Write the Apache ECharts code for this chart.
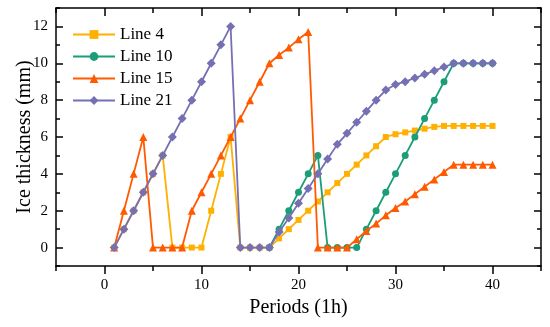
<!DOCTYPE html>
<html>
<head>
<meta charset="utf-8">
<script src="https://cdn.jsdelivr.net/npm/echarts@6/dist/echarts.min.js"></script>
<style>
html,body{margin:0;padding:0;background:#fff;}
#chart{width:550px;height:327px;}
</style>
</head>
<body>
<div id="chart"></div>
<script>
var periods = [1,2,3,4,5,6,7,8,9,10,11,12,13,14,15,16,17,18,19,20,21,22,23,24,25,26,27,28,29,30,31,32,33,34,35,36,37,38,39,40];
var line4  = [0,1,2,3,4,5,0,0,0,0,2,4,6,0,0,0,0,0.5,1,1.5,2,2.5,3,3.5,4,4.5,5,5.5,6,6.15,6.25,6.35,6.45,6.55,6.6,6.6,6.6,6.6,6.6,6.6];
var line10 = [null,null,null,null,null,null,null,null,null,null,null,null,null,null,null,null,0,1,2,3,4,5,0,0,0,0,1,2,3,4,5,6,7,8,9,10,10,10,10,10];
var line15 = [0,2,4,6,0,0,0,0,2,3,4,5,6,7,8,9,10,10.45,10.85,11.3,11.7,0,0,0,0,0.45,0.9,1.3,1.75,2.15,2.5,2.9,3.3,3.7,4.1,4.5,4.5,4.5,4.5,4.5];
var line21 = [0,1,2,3,4,5,6,7,8,9,10,11,12,0,0,0,0,0.85,1.6,2.4,3.2,4.0,4.8,5.6,6.2,6.8,7.4,8.0,8.55,8.85,9.0,9.2,9.4,9.6,9.8,10,10,10,10,10];
var xMajorTicks = [0,10,20,30,40];
var yMajorTicks = [0,2,4,6,8,10,12];
var seriesNames = ['Line 4','Line 10','Line 15','Line 21'];
var colors = ['#FFB000','#1B9E77','#FF5A00','#7570B3'];

function pairs(vals){
  return periods.map(function(p,i){ return [p, vals[i]]; }).filter(function(d){ return d[1] !== null; });
}

var FONT = 'Liberation Serif';
var axisLineStyle = {color:'#000', width:1.5};

function xAx(pos, major, labels, inside){
  return {
    type:'value', min:-5, max:45, interval:5, position:pos,
    axisLine:{show:!major, onZero:false, lineStyle:axisLineStyle},
    axisTick:major ? {show:true, inside:inside, length:8, customValues:xMajorTicks, lineStyle:axisLineStyle}
                   : {show:true, inside:inside, length:5, lineStyle:axisLineStyle},
    axisLabel:labels ? {show:true, margin:12, color:'#000', fontFamily:FONT, fontSize:15, customValues:xMajorTicks} : {show:false},
    splitLine:{show:false},
    name: labels ? 'Periods (1h)' : '',
    nameLocation:'middle', nameGap:32, nameMoveOverlap:false,
    nameTextStyle:{color:'#000', fontFamily:FONT, fontSize:20}
  };
}
function yAx(pos, major, labels){
  return {
    type:'value', min:-1, max:13, interval:1, position:pos,
    axisLine:{show:!major, onZero:false, lineStyle:axisLineStyle},
    axisTick:major ? {show:true, inside:true, length:7, customValues:yMajorTicks, lineStyle:axisLineStyle}
                   : {show:true, inside:true, length:4, lineStyle:axisLineStyle},
    axisLabel:labels ? {show:true, margin:8, color:'#000', fontFamily:FONT, fontSize:15, customValues:yMajorTicks} : {show:false},
    splitLine:{show:false},
    name: labels ? 'Ice thickness (mm)' : '',
    nameLocation:'middle', nameGap:21, nameRotate:90, nameMoveOverlap:false,
    nameTextStyle:{color:'#000', fontFamily:FONT, fontSize:20}
  };
}

var symbols = ['rect','circle','triangle','diamond'];
var sizes = [6,7,8,9];
var dataSets = [line4, line10, line15, line21];

var series = dataSets.map(function(vals, i){
  return {
    name: seriesNames[i], type:'line', xAxisIndex:0, yAxisIndex:0,
    data: pairs(vals),
    symbol: symbols[i], symbolSize: sizes[i], showSymbol:true,
    lineStyle:{color:colors[i], width:1.8},
    itemStyle:{color:colors[i]},
    z: 2 + i,
    animation:false
  };
});

var chart = echarts.init(document.getElementById('chart'), null, {renderer:'canvas'});
chart.setOption({
  animation:false,
  backgroundColor:'#fff',
  grid:{left:56, right:9, top:8, bottom:61, containLabel:false, outerBoundsMode:'none'},
  legend:{
    orient:'vertical', left:67, top:21, padding:5,
    itemWidth:42, itemHeight:11, itemGap:5,
    textStyle:{color:'#000', fontFamily:FONT, fontSize:17},
    data: seriesNames
  },
  xAxis:[xAx('bottom', false, true, false), xAx('bottom', true, false, false), xAx('top', false, false, true), xAx('top', true, false, true)],
  yAxis:[yAx('left', false, true), yAx('left', true, false), yAx('right', false, false), yAx('right', true, false)],
  series: series
});
</script>
</body>
</html>
